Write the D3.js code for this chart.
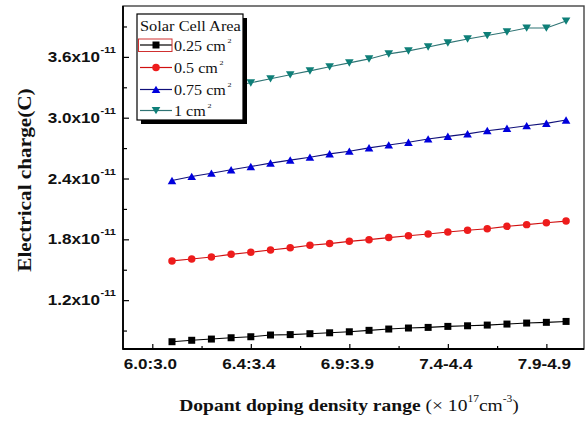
<!DOCTYPE html>
<html><head><meta charset="utf-8">
<script src="https://cdn.jsdelivr.net/npm/d3@7/dist/d3.min.js"></script>
<style>body{margin:0;background:#fff}svg{display:block}</style>
</head><body>
<svg id="c" width="587" height="423"></svg>
<script>
// ---- data (values in units of 1e-11 C) ----
const xTickPos = [-1, 4, 9, 14, 19];
const xTickLabels = ["6.0:3.0", "6.4:3.4", "6.9:3.9", "7.4-4.4", "7.9-4.9"];
const xMinorPos = [1.5, 6.5, 11.5, 16.5];
const yTicks = [1.2, 1.8, 2.4, 3.0, 3.6];
const yMinor = [0.9, 1.5, 2.1, 2.7, 3.3, 3.9];
const seriesNames = ["0.25 cm", "0.5 cm", "0.75 cm", "1 cm"];
const area025 = [0.790,0.804,0.816,0.829,0.839,0.856,0.860,0.869,0.878,0.888,0.902,0.915,0.925,0.931,0.941,0.947,0.954,0.964,0.974,0.981,0.990];
const area05  = [1.587,1.606,1.626,1.652,1.672,1.695,1.716,1.741,1.758,1.780,1.797,1.817,1.836,1.852,1.872,1.889,1.905,1.928,1.945,1.964,1.980];
const area075 = [2.380,2.420,2.452,2.486,2.518,2.552,2.581,2.610,2.643,2.669,2.702,2.731,2.757,2.790,2.816,2.840,2.872,2.895,2.921,2.944,2.977];
const area1   = [3.190,3.230,3.270,3.310,3.344,3.384,3.423,3.462,3.502,3.541,3.580,3.630,3.659,3.698,3.738,3.777,3.811,3.846,3.885,3.885,3.954];

const svg = d3.select("#c");
const L = 123, R = 584, T = 6, B = 349;
const x = d3.scaleLinear().domain([-2.487, 20.91]).range([L, R]);
const y = d3.scaleLinear().domain([0.718, 4.102]).range([B, T]);
const SX = 1.22;

const series = [
  {name: seriesNames[0], vals: area025, fill: "#000", line: "#000", shape: "square"},
  {name: seriesNames[1], vals: area05,  fill: "#ee1c1c", line: "#d01010", shape: "circle"},
  {name: seriesNames[2], vals: area075, fill: "#0000dd", line: "#10107a", shape: "up"},
  {name: seriesNames[3], vals: area1,   fill: "#0e7f78", line: "#2f7474", shape: "down"}
];
function markerPath(shape) {
  if (shape === "square") return "M-3.5,-3.5h7v7h-7z";
  if (shape === "circle") return d3.symbol(d3.symbolCircle, 44)();
  if (shape === "up") return "M0,-3.8L4.3,3.6L-4.3,3.6Z";
  return "M0,3.8L4.3,-3.6L-4.3,-3.6Z";
}

// series
series.forEach(s => {
  const g = svg.append("g");
  g.append("path").datum(s.vals)
    .attr("fill", "none").attr("stroke", s.line).attr("stroke-width", 1.1)
    .attr("d", d3.line().x((d, i) => x(i)).y(d => y(d)));
  g.selectAll("path.m").data(s.vals).join("path").attr("class", "m")
    .attr("d", markerPath(s.shape)).attr("fill", s.fill)
    .attr("transform", (d, i) => `translate(${x(i)},${y(d)})`);
});

// frame
svg.append("rect").attr("x", L).attr("y", T).attr("width", R - L).attr("height", B - T)
  .attr("fill", "none").attr("stroke", "#444").attr("stroke-width", 1.4);
svg.append("line").attr("x1", L).attr("x2", L).attr("y1", T).attr("y2", B + 0.7).attr("stroke", "#000").attr("stroke-width", 1.8);
svg.append("line").attr("x1", L).attr("x2", R).attr("y1", B).attr("y2", B).attr("stroke", "#000").attr("stroke-width", 1.8);

// axes (ticks inward)
const xAxis = svg.append("g").attr("transform", `translate(0,${B})`)
  .call(d3.axisBottom(x).tickValues(xTickPos).tickSize(-5).tickFormat(""));
const xAxisMinor = svg.append("g").attr("transform", `translate(0,${B})`)
  .call(d3.axisBottom(x).tickValues(xMinorPos).tickSize(-3).tickFormat(""));
const yAxis = svg.append("g").attr("transform", `translate(${L},0)`)
  .call(d3.axisLeft(y).tickValues(yTicks).tickSize(-6).tickFormat(""));
const yAxisMinor = svg.append("g").attr("transform", `translate(${L},0)`)
  .call(d3.axisLeft(y).tickValues(yMinor).tickSize(-4).tickFormat(""));
[xAxis, xAxisMinor, yAxis, yAxisMinor].forEach(a => {
  a.select(".domain").remove();
  a.selectAll("line").attr("stroke", "#000").attr("stroke-width", 1.2);
});

// x tick labels
xTickPos.forEach((p, i) => {
  svg.append("text").text(xTickLabels[i])
    .attr("transform", `translate(${x(p) - 2},369) scale(${SX},1)`)
    .attr("text-anchor", "middle").attr("font-family", "Liberation Sans, Arial, sans-serif")
    .attr("font-weight", "bold").attr("font-size", 14).attr("fill", "#111");
});
// y tick labels
yTicks.forEach(v => {
  svg.append("text")
    .attr("transform", `translate(100,${y(v) + 5}) scale(${SX},1)`)
    .attr("text-anchor", "end").attr("font-family", "Liberation Sans, Arial, sans-serif")
    .attr("font-weight", "bold").attr("font-size", 14).attr("fill", "#111")
    .text(v.toFixed(1) + "x10");
  svg.append("text")
    .attr("transform", `translate(100.5,${y(v) - 4}) scale(${SX},1)`)
    .attr("font-family", "Liberation Sans, Arial, sans-serif")
    .attr("font-weight", "bold").attr("font-size", 9).attr("fill", "#111")
    .text("-11");
});

// axis titles
const xt = svg.append("text")
  .attr("transform", `translate(349,411) scale(1.15,1)`)
  .attr("text-anchor", "middle").attr("font-family", "Liberation Serif, Times New Roman, serif")
  .attr("font-size", 17).attr("fill", "#111");
xt.append("tspan").attr("font-weight", "bold").text("Dopant doping density range ");
xt.append("tspan").text("(\u00d7 10");
xt.append("tspan").attr("font-size", 10).attr("dy", -9).text("17");
xt.append("tspan").attr("dy", 9).text("cm");
xt.append("tspan").attr("font-size", 10).attr("dy", -9).text("-3");
xt.append("tspan").attr("dy", 9).text(")");

svg.append("text")
  .attr("transform", `translate(31,180) rotate(-90) scale(1.25,1.15)`)
  .attr("text-anchor", "middle").attr("font-family", "Liberation Serif, Times New Roman, serif")
  .attr("font-weight", "bold").attr("font-size", 17).attr("fill", "#111")
  .text("Electrical charge(C)");

// legend
const lg = svg.append("g");
lg.append("rect").attr("x", 141).attr("y", 18).attr("width", 106).attr("height", 106).attr("fill", "#000");
lg.append("rect").attr("x", 137).attr("y", 14).attr("width", 106).attr("height", 106)
  .attr("fill", "#fff").attr("stroke", "#000").attr("stroke-width", 1.2);
lg.append("text").attr("transform", "translate(140,31) scale(1.17,1)")
  .attr("font-family", "Liberation Serif, Times New Roman, serif").attr("font-size", 14).attr("fill", "#111")
  .text("Solar Cell Area");
const rowY = [45, 67.5, 89.5, 110.5];
series.forEach((s, i) => {
  const yy = rowY[i];
  lg.append("line").attr("x1", 140).attr("x2", 172).attr("y1", yy).attr("y2", yy)
    .attr("stroke", s.line).attr("stroke-width", 1.2);
  lg.append("path").attr("d", markerPath(s.shape)).attr("fill", s.fill)
    .attr("transform", `translate(156,${yy})`);
  const t = lg.append("text").attr("transform", `translate(174,${yy + 5.5}) scale(1.15,1)`)
    .attr("font-family", "Liberation Serif, Times New Roman, serif").attr("font-size", 14).attr("fill", "#111");
  t.append("tspan").text(s.name);
  t.append("tspan").attr("font-size", 7).attr("dx", 1.5).attr("dy", -8).text("2");
});
lg.append("rect").attr("x", 138.5).attr("y", 39).attr("width", 33.5).attr("height", 12.5)
  .attr("fill", "none").attr("stroke", "#d03030").attr("stroke-width", 1);
</script>
</body></html>
